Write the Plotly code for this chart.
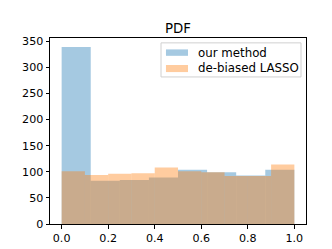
import plotly.graph_objects as go

blue_edges = [0.0, 0.125, 0.25, 0.375, 0.5, 0.625, 0.75, 0.875, 1.0]
blue_counts = [339, 83, 84, 89, 104, 99, 93, 104]
orange_edges = [0.0, 0.1, 0.2, 0.3, 0.4, 0.5, 0.6, 0.7, 0.8, 0.9, 1.0]
orange_counts = [101, 94, 96, 97, 108, 101, 99, 92, 92, 114]
series_names = ["our method", "de-biased LASSO"]
x_ticks = [0.0, 0.2, 0.4, 0.6, 0.8, 1.0]
y_ticks = [0, 50, 100, 150, 200, 250, 300, 350]

BLUE = "rgba(31,119,180,0.4)"
ORANGE = "rgba(255,127,14,0.4)"
FS = 11.1
LFS = 11.8


def centers_widths(edges):
    c = [(a + b) / 2 for a, b in zip(edges[:-1], edges[1:])]
    w = [b - a for a, b in zip(edges[:-1], edges[1:])]
    return c, w


bc, bw = centers_widths(blue_edges)
oc, ow = centers_widths(orange_edges)

fig = go.Figure()
fig.add_trace(go.Bar(x=bc, y=blue_counts, width=bw, name=series_names[0],
                     marker=dict(color=BLUE, line=dict(width=0))))
fig.add_trace(go.Bar(x=oc, y=orange_counts, width=ow, name=series_names[1],
                     marker=dict(color=ORANGE, line=dict(width=0))))

axis_common = dict(showgrid=False, zeroline=False, showline=True, linecolor="black",
                   linewidth=1, mirror=True, ticks="outside", ticklen=3.5, tickwidth=1,
                   tickcolor="black", tickfont=dict(family="DejaVu Sans", size=FS, color="black"))

# manual matplotlib-style legend (paper coords of plot area)
shapes = [
    dict(type="rect", xref="paper", yref="paper", x0=0.4336, x1=0.9805, y0=0.7906, y1=0.9738,
         fillcolor="rgba(255,255,255,0.8)", line=dict(color="#d0d0d0", width=1), layer="above"),
    dict(type="rect", xref="paper", yref="paper", x0=0.453, x1=0.539, y0=0.9042, y1=0.9387,
         fillcolor=BLUE, line=dict(width=0), layer="above"),
    dict(type="rect", xref="paper", yref="paper", x0=0.453, x1=0.539, y0=0.8168, y1=0.855,
         fillcolor=ORANGE, line=dict(width=0), layer="above"),
]
annotations = [
    dict(text=series_names[0], xref="paper", yref="paper", x=0.578, y=0.9215, xanchor="left",
         yanchor="middle", showarrow=False, xshift=-2,
         font=dict(family="DejaVu Sans", size=LFS, color="black")),
    dict(text=series_names[1], xref="paper", yref="paper", x=0.578, y=0.8377, xanchor="left",
         yanchor="middle", showarrow=False, xshift=-2,
         font=dict(family="DejaVu Sans", size=LFS, color="black")),
]

fig.update_layout(
    width=332, height=249,
    margin=dict(l=42, r=34, t=30, b=28),
    barmode="overlay",
    plot_bgcolor="white", paper_bgcolor="white",
    title=dict(text="PDF", x=0.5, xref="paper", xanchor="center", y=1 - 20 / 249, yanchor="middle",
               font=dict(family="DejaVu Sans", size=13.3, color="black")),
    xaxis=dict(range=[-0.05, 1.05], tickvals=x_ticks, ticktext=[f"{v:.1f}" for v in x_ticks], **axis_common),
    yaxis=dict(range=[0, 356], tickvals=y_ticks, **axis_common),
    shapes=shapes,
    annotations=annotations,
    showlegend=False,
)

fig.write_html("out.html")
